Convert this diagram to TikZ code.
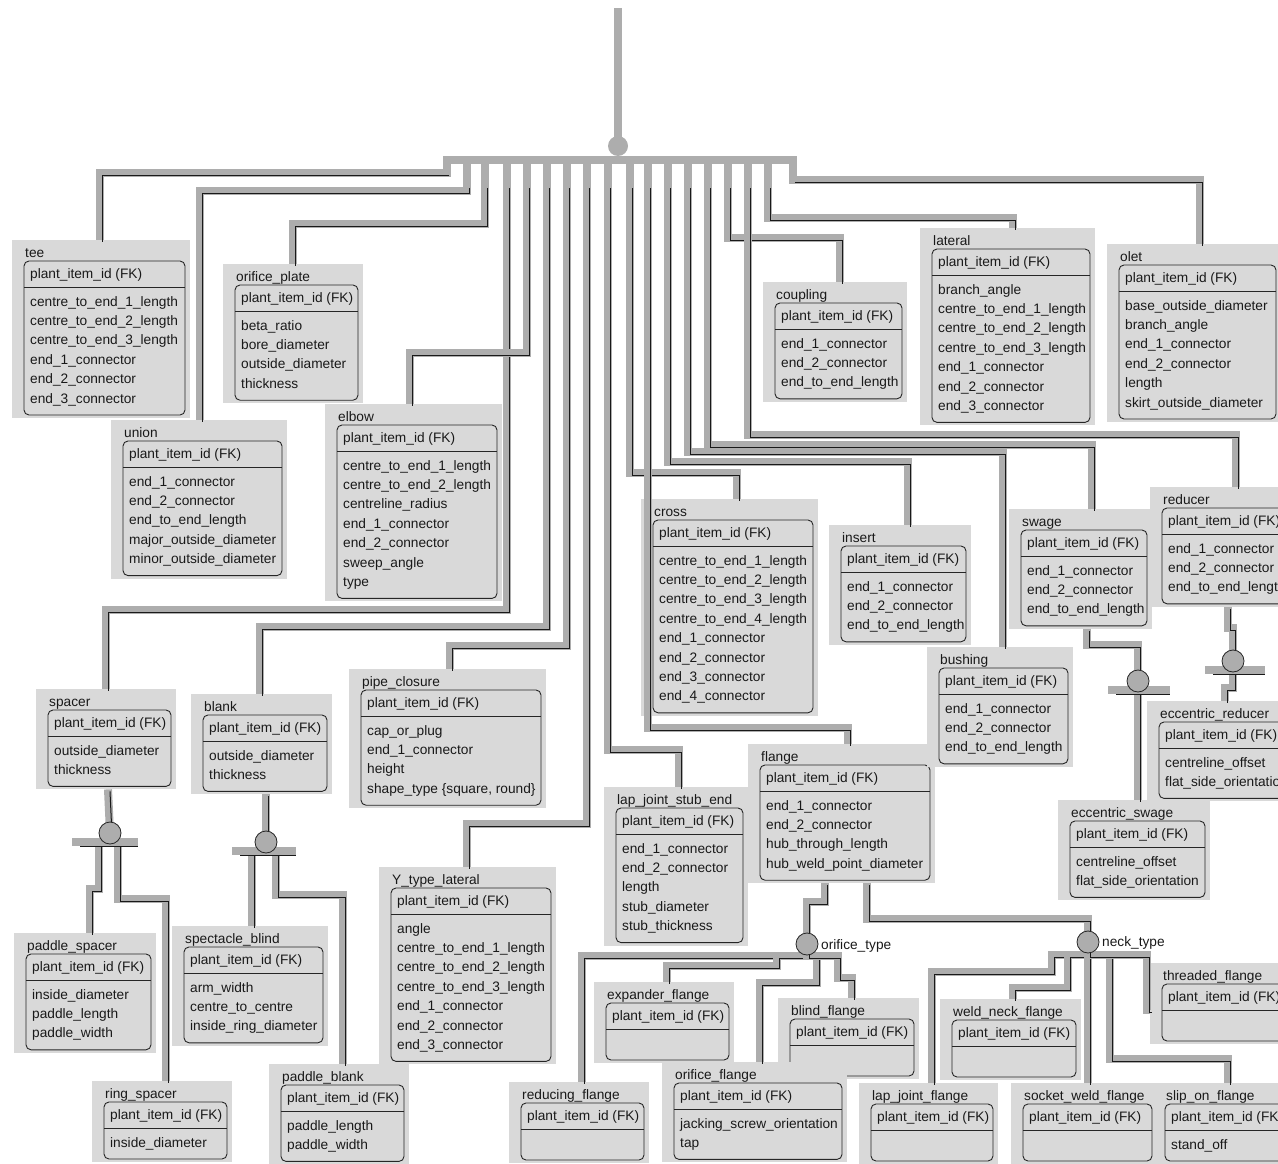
\documentclass[tikz,border=0pt]{standalone}
\usepackage{fontspec}
\setmainfont{Liberation Sans}
\usetikzlibrary{calc}

\tikzset{
  entbg/.style={fill=black!15, draw=none, inner sep=0pt, outer sep=0pt},
  entbox/.style={draw=black!85, line width=0.9pt, fill=black!15, rounded corners=5pt},
  conn/.style={draw=black!32, line width=8pt},
  conninner/.style={draw=black!90, line width=1pt},
  disc/.style={circle, fill=black!32, draw=black!85, line width=0.8pt, minimum size=22pt, inner sep=0pt},
  lbl/.style={anchor=base west, inner sep=0pt, text=black!90}
}

% entity: name, title, left, top, right, number of fields, fields
\newcommand{\entity}[7]{%
  \pgfmathsetmacro{\ebot}{#4+37.6+19.4*#6+19.4*(#6==0)}
  \pgfmathsetmacro{\ewd}{#5-#3+17}
  \pgfmathsetmacro{\eht}{\ebot-#4+24}
  \node[entbg, anchor=north west, minimum width=\ewd pt, minimum height=\eht pt] (#1) at ({#3-12},{#4-21}) {};
  \draw[entbox] (#3,#4) rectangle (#5,\ebot);
  \draw[black!85, line width=0.9pt] (#3,{#4+26}) -- (#5,{#4+26});
  \node[lbl] (#1-title) at ({#3+1},{#4-4}) {#2};
  \node[lbl] (#1-key) at ({#3+6},{#4+17}) {plant\_item\_id (FK)};
  \ifnum#6>0
    \foreach \f [count=\i] in {#7}
      \node[lbl] (#1-f\i) at ({#3+6},{#4+45+19.4*(\i-1)}) {\f};
  \fi
}

% link from a bus tooth: tooth, turn y, entity, attach x
\newcommand{\busto}[4]{%
  \pgfmathsetmacro{\bstart}{min(186,#2)}
  \draw[conn] (t-#1) -- (t-#1 |- 0,#2) -| (#3.north -| #4,0);
  \begin{scope}[transform canvas={shift={(2pt,-2pt)}}]
    \draw[conninner] (t-#1 |- 0,\bstart) -- (t-#1 |- 0,#2) -| (#3.north -| #4,0);
  \end{scope}}

% grey link with its thin black line
\newcommand{\wire}[1]{%
  \draw[conn] #1;
  \begin{scope}[transform canvas={shift={(2pt,-2pt)}}]
    \draw[conninner] #1;
  \end{scope}}

% bar under a discriminator
\newcommand{\discbar}[3]{%
  \draw[conn] ([shift={(-#2,9)}]#1) -- ([shift={(#3,9)}]#1);
  \draw[conninner] ([shift={(-#2+8,13)}]#1) -- ([shift={(#3,13)}]#1);}

\begin{document}
\begin{tikzpicture}[x=1pt, y=-1pt, font=\fontsize{13.7}{16}\selectfont]
  \useasboundingbox (0,0) rectangle (1278,1164);
  \clip (0,0) rectangle (1278,1164);

  % entities
  \entity{tee}{tee}{24}{261}{185}{6}{centre\_to\_end\_1\_length, centre\_to\_end\_2\_length,
    centre\_to\_end\_3\_length, end\_1\_connector, end\_2\_connector, end\_3\_connector}
  \entity{orificeplate}{orifice\_plate}{235}{285}{358}{4}{beta\_ratio, bore\_diameter,
    outside\_diameter, thickness}
  \entity{union}{union}{123}{441}{282}{5}{end\_1\_connector, end\_2\_connector,
    end\_to\_end\_length, major\_outside\_diameter, minor\_outside\_diameter}
  \entity{elbow}{elbow}{337}{425}{497}{7}{centre\_to\_end\_1\_length, centre\_to\_end\_2\_length,
    centreline\_radius, end\_1\_connector, end\_2\_connector, sweep\_angle, type}
  \entity{coupling}{coupling}{775}{303}{902}{3}{end\_1\_connector, end\_2\_connector,
    end\_to\_end\_length}
  \entity{lateral}{lateral}{932}{249}{1090}{7}{branch\_angle, centre\_to\_end\_1\_length,
    centre\_to\_end\_2\_length, centre\_to\_end\_3\_length, end\_1\_connector,
    end\_2\_connector, end\_3\_connector}
  \entity{olet}{olet}{1119}{265}{1276}{6}{base\_outside\_diameter, branch\_angle,
    end\_1\_connector, end\_2\_connector, length, skirt\_outside\_diameter}
  \entity{cross}{cross}{653}{520}{813}{8}{centre\_to\_end\_1\_length, centre\_to\_end\_2\_length,
    centre\_to\_end\_3\_length, centre\_to\_end\_4\_length, end\_1\_connector,
    end\_2\_connector, end\_3\_connector, end\_4\_connector}
  \entity{insert}{insert}{841}{546}{966}{3}{end\_1\_connector, end\_2\_connector,
    end\_to\_end\_length}
  \entity{swage}{swage}{1021}{530}{1147}{3}{end\_1\_connector, end\_2\_connector,
    end\_to\_end\_length}
  \entity{reducer}{reducer}{1162}{508}{1290}{3}{end\_1\_connector, end\_2\_connector,
    end\_to\_end\_length}
  \entity{spacer}{spacer}{48}{710}{171}{2}{outside\_diameter, thickness}
  \entity{blank}{blank}{203}{715}{327}{2}{outside\_diameter, thickness}
  \entity{pipeclosure}{pipe\_closure}{361}{690}{541}{4}{cap\_or\_plug, end\_1\_connector,
    height, {shape\_type \{square, round\}}}
  \entity{paddlespacer}{paddle\_spacer}{26}{954}{151}{3}{inside\_diameter, paddle\_length,
    paddle\_width}
  \entity{spectacleblind}{spectacle\_blind}{184}{947}{323}{3}{arm\_width, centre\_to\_centre,
    inside\_ring\_diameter}
  \entity{ringspacer}{ring\_spacer}{104}{1102}{227}{1}{inside\_diameter}
  \entity{paddleblank}{paddle\_blank}{281}{1085}{404}{2}{paddle\_length, paddle\_width}
  \entity{ytype}{Y\_type\_lateral}{391}{888}{551}{7}{angle, centre\_to\_end\_1\_length,
    centre\_to\_end\_2\_length, centre\_to\_end\_3\_length, end\_1\_connector,
    end\_2\_connector, end\_3\_connector}
  \entity{lapstub}{lap\_joint\_stub\_end}{616}{808}{743}{5}{end\_1\_connector, end\_2\_connector,
    length, stub\_diameter, stub\_thickness}
  \entity{flange}{flange}{760}{765}{930}{4}{end\_1\_connector, end\_2\_connector,
    hub\_through\_length, hub\_weld\_point\_diameter}
  \entity{bushing}{bushing}{939}{668}{1068}{3}{end\_1\_connector, end\_2\_connector,
    end\_to\_end\_length}
  \entity{eccreducer}{eccentric\_reducer}{1159}{722}{1290}{2}{centreline\_offset,
    flat\_side\_orientation}
  \entity{eccswage}{eccentric\_swage}{1070}{821}{1205}{2}{centreline\_offset,
    flat\_side\_orientation}
  \entity{threaded}{threaded\_flange}{1162}{984}{1290}{0}{}
  \entity{expander}{expander\_flange}{606}{1003}{729}{0}{}
  \entity{blindfl}{blind\_flange}{790}{1019}{914}{0}{}
  \entity{weldneck}{weld\_neck\_flange}{952}{1020}{1076}{0}{}
  \entity{reducingfl}{reducing\_flange}{521}{1103}{644}{0}{}
  \entity{orificefl}{orifice\_flange}{674}{1083}{842}{2}{jacking\_screw\_orientation, tap}
  \entity{lapjointfl}{lap\_joint\_flange}{871}{1104}{993}{0}{}
  \entity{socketweld}{socket\_weld\_flange}{1023}{1104}{1152}{0}{}
  \entity{slipon}{slip\_on\_flange}{1165}{1104}{1290}{1}{stand\_off}

  % bus
  \draw[conn] (618,8) -- (618,150);
  \fill[black!32] (618,146) circle (10);
  \draw[conn] (443,160) -- (797,160);
  \foreach \n/\x in {tee/447, union/467, orifice/485, spacer/507, elbow/527, blank/547,
      pipe/567, ytype/587, lapstub/608, cross/630, flange/648, insert/668, bushing/688,
      swage/708, coupling/728, reducer/748, lateral/768, olet/793}
    \coordinate (t-\n) at (\x,160);

  \busto{tee}{173}{tee}{100}
  \busto{union}{191}{union}{200}
  \busto{orifice}{224}{orificeplate}{293}
  \busto{spacer}{610}{spacer}{106}
  \busto{elbow}{353}{elbow}{410}
  \busto{blank}{627}{blank}{260}
  \busto{pipe}{646}{pipeclosure}{450}
  \busto{ytype}{824}{ytype}{467}
  \busto{lapstub}{750}{lapstub}{679}
  \busto{cross}{473}{cross}{737}
  \busto{flange}{728}{flange}{848}
  \busto{insert}{462}{insert}{908}
  \busto{bushing}{452}{bushing}{1003}
  \busto{swage}{445}{swage}{1092}
  \busto{coupling}{238}{coupling}{840}
  \busto{reducer}{435}{reducer}{1236}
  \busto{lateral}{218}{lateral}{1013}
  \busto{olet}{180}{olet}{1200}

  % subtypes
  \coordinate (spdisc) at (110,833);
  \coordinate (bldisc) at (266,842);
  \coordinate (ortype) at (807,944);
  \coordinate (necktype) at (1088,942);
  \coordinate (swdisc) at (1138,681);
  \coordinate (rddisc) at (1233,661);

  \wire{(spacer.south -| 108,0) -- (spdisc)}
  \wire{([shift={(-11,12)}]spdisc) -- ++(0,44) -| (paddlespacer.north -| 90,0)}
  \wire{([shift={(8,12)}]spdisc) |- (166,899) -- (ringspacer.north -| 166,0)}

  \wire{(blank.south -| 266,0) -- (bldisc)}
  \wire{([shift={(-14,12)}]bldisc) -- (spectacleblind.north -| 252,0)}
  \wire{([shift={(10,12)}]bldisc) |- (343,895) -- (paddleblank.north -| 343,0)}

  \wire{(flange.south -| 825,0) -- (825,902) -| (ortype)}
  \wire{(flange.south -| 867,0) |- (necktype |- 0,919) -- (necktype)}
  \wire{(ortype) |- (582,956) -- (reducingfl.north -| 582,0)}
  \wire{(ortype) |- (777,956) -- (777,966) -| (expander.north -| 667,0)}
  \wire{(ortype) |- (817,956) -- (817,983) -| (orificefl.north -| 760,0)}
  \wire{(ortype) |- (838,956) -- (838,978) -| (blindfl.north -| 852,0)}

  \wire{(necktype) |- (1052,955) -- (1052,972) -| (lapjointfl.north -| 932,0)}
  \wire{(necktype) |- (1068,955) -- (1068,988) -| (weldneck.north -| 1013,0)}
  \wire{(necktype) -- (socketweld.north -| necktype)}
  \wire{(necktype) |- (1110,955) -- (1110,1059) -| (slipon.north -| 1228,0)}
  \wire{(necktype) |- (1147,955) -- (1147,1010) -- (threaded.west |- 0,1010)}

  \wire{(swage.south -| 1087,0) |- (swdisc |- 0,645) -- (swdisc)}
  \wire{(swdisc) -- (eccswage.north -| swdisc)}
  \wire{(reducer.south -| 1228,0) |- (rddisc |- 0,628) -- (rddisc)}
  \wire{(rddisc) |- (1225,688) -- (eccreducer.north -| 1225,0)}

  \discbar{spdisc}{38}{28}
  \discbar{bldisc}{34}{30}
  \discbar{swdisc}{30}{32}
  \discbar{rddisc}{28}{32}

  \node[disc] (spdisc-c) at (spdisc) {};
  \node[disc] (bldisc-c) at (bldisc) {};
  \node[disc] (ortype-c) at (ortype) {};
  \node[disc] (necktype-c) at (necktype) {};
  \node[disc] (swdisc-c) at (swdisc) {};
  \node[disc] (rddisc-c) at (rddisc) {};
  \node[lbl] (ortype-lbl) at (821,949) {orifice\_type};
  \node[lbl] (necktype-lbl) at (1102,946) {neck\_type};
\end{tikzpicture}
\end{document}
